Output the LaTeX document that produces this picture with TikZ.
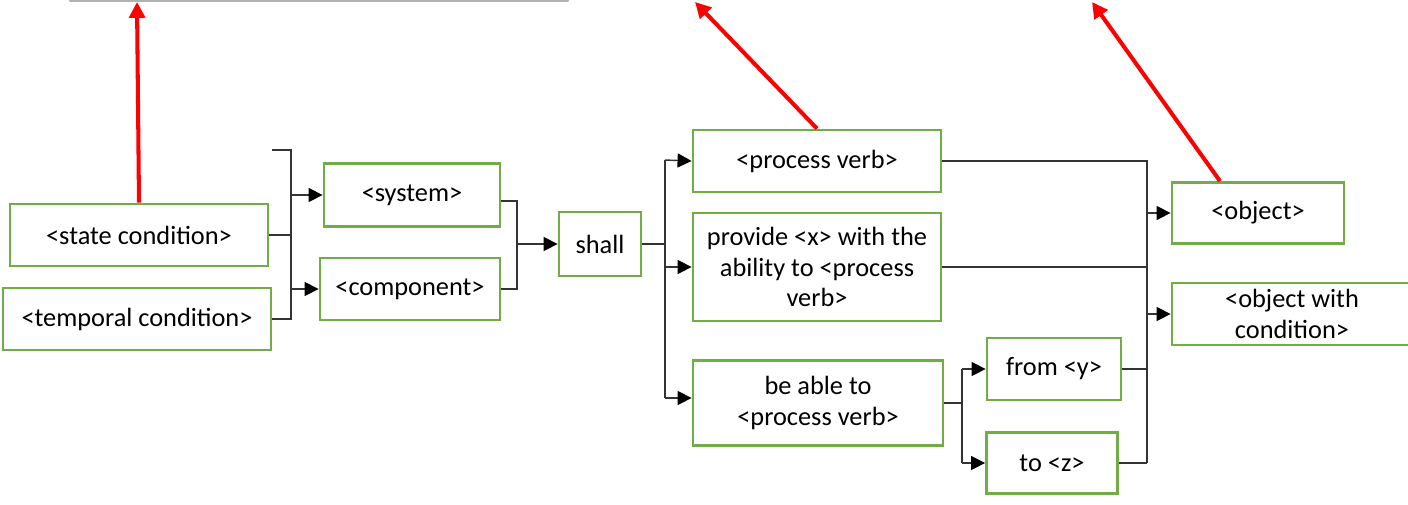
\documentclass[tikz,border=0pt]{standalone}
\usepackage{fontspec}
\setmainfont{Carlito}
\usetikzlibrary{arrows.meta, positioning}
\definecolor{boxgreen}{RGB}{112,173,71}

\tikzset{
  block/.style={draw=boxgreen, line width=1.6pt, align=center, inner sep=0pt,
    font=\fontsize{15}{17.6}\selectfont},
  wh/.style 2 args={minimum width=#1*0.02cm, minimum height=#2*0.02cm},
  link/.style={draw=black!80, line width=0.8pt},
  feed/.style={link, -{Triangle[length=8pt,width=8pt,color=black]}},
  pointer/.style={draw=red, line width=2.3pt, -{Triangle[length=9pt,width=9pt]}},
}

\begin{document}
\begin{tikzpicture}[x=0.02cm, y=-0.02cm]
  \useasboundingbox (0,0) rectangle (1408,504);

  % edge of the box above
  \draw[gray!60, line width=1.2pt, line cap=round] (70,0.5) -- (568,0.5);

  % conditions and subject
  \node[block, wh={258}{62}] (state) at (139,235) {<state condition>};
  \node[block, wh={268}{62}] (temporal) at (137,319) {<temporal condition>};
  \node[block, wh={176}{63}] (system) at (412,195) {<system>};
  \node[block, wh={180}{62}] (component) at (410,289) {<component>};
  \node[block, wh={82}{64}] (shall) at (600,244) {shall};

  % verb forms
  \node[block, wh={248}{62}] (verb) at (817,161) {<process verb>};
  \node[block, wh={248}{108}] (provide) at (817,267) {provide <x> with the\\ability to <process\\verb>};
  \node[block, wh={250}{85}] (able) at (818,403) {be able to\\<process verb>};
  \node[block, wh={134}{62}] (from) at (1054,369) {from <y>};
  \node[block, wh={131}{61}] (to) at (1052,463) {to <z>};

  % objects
  \node[block, wh={172}{61}] (object) at (1258,213) {<object>};
  \node[block, wh={240}{62}] (objcond) at (1292,314) {<object with\\condition>};

  % junctions
  \coordinate (j1stub) at (272,150);
  \coordinate (j1) at (291,150);
  \coordinate (j2) at (517,201);
  \coordinate (j3) at (665,160);
  \coordinate (j3b) at (665,398);
  \coordinate (j4) at (962,369);
  \coordinate (j5) at (1147,160);

  % condition bracket
  \draw[link] (j1stub) -- (j1) |- (temporal.east);
  \draw[link] (state.east) -- (state.east -| j1);
  \draw[feed] (system.west -| j1) -- (system.west);
  \draw[feed] (component.west -| j1) -- (component.west);

  % subject bracket
  \draw[link] (system.east |- j2) -- (j2) |- (component.east);
  \draw[feed] (shall.west -| j2) -- (shall.west);

  % verb branches
  \draw[link] (shall.east) -- (shall.east -| j3);
  \draw[link] (j3) -- (j3b);
  \draw[feed] (j3) -- (verb.west);
  \draw[feed] (provide.west -| j3) -- (provide.west);
  \draw[feed] (j3b) -- (j3b -| able.west);

  \draw[link] (able.east) -- (able.east -| j4);
  \draw[link] (j4) -- (j4 |- to.west);
  \draw[feed] (j4) -- (from.west);
  \draw[feed] (to.west -| j4) -- (to.west);

  % object bracket
  \draw[link] (verb.east) -- (verb.east -| j5);
  \draw[link] (provide.east) -- (provide.east -| j5);
  \draw[link] (from.east) -- (from.east -| j5);
  \draw[link] (to.east) -- (to.east -| j5);
  \draw[link] (j5) -- (j5 |- to.east);
  \draw[feed] (object.west -| j5) -- (object.west);
  \draw[feed] (objcond.west -| j5) -- (objcond.west);

  % red pointers
  \coordinate (t1) at (137,2);
  \coordinate (t2) at (695,2);
  \coordinate (t3) at (1092,2);
  \draw[pointer] (state.north) -- (t1);
  \draw[pointer] (verb.north) -- (t2);
  \draw[pointer] ([xshift=-0.76cm]object.north) -- (t3);
\end{tikzpicture}
\end{document}
